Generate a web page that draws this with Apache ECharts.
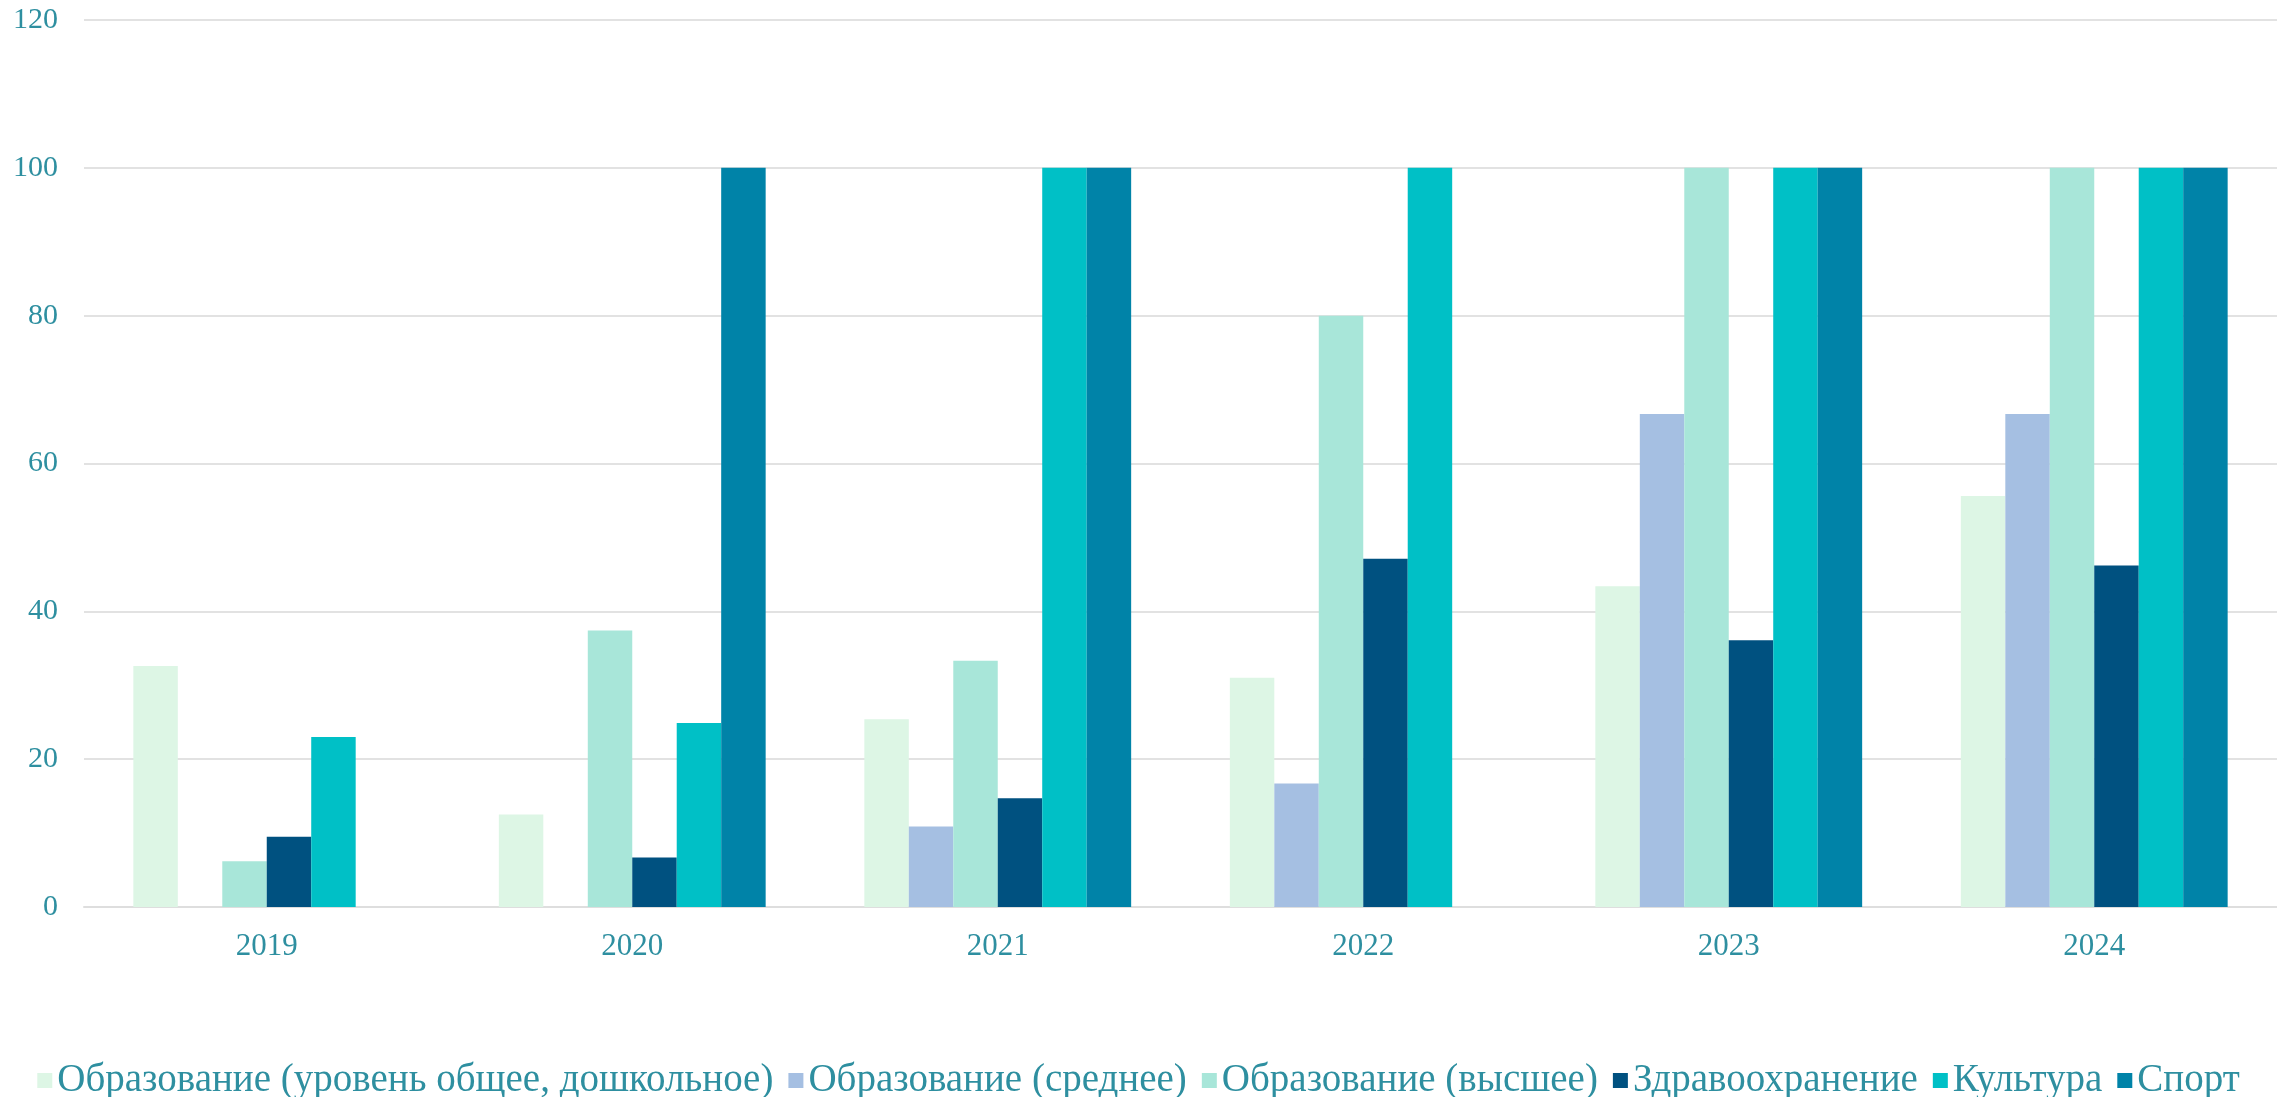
<!DOCTYPE html>
<html>
<head>
<meta charset="utf-8">
<script src="https://cdn.jsdelivr.net/npm/echarts@6/dist/echarts.min.js"></script>
<style>
  html, body { margin: 0; padding: 0; background: #ffffff; }
  #chart { width: 2277px; height: 1097px; }
</style>
</head>
<body>
<div id="chart"></div>
<script>
var years = ['2019', '2020', '2021', '2022', '2023', '2024'];
var seriesNames = [
  'Образование (уровень общее, дошкольное)',
  'Образование (среднее)',
  'Образование (высшее)',
  'Здравоохранение',
  'Культура',
  'Спорт'
];
var eduGeneral = [32.6, 12.5, 25.4, 31.0, 43.4, 55.6];
var eduSecondary = [0, 0, 10.9, 16.7, 66.7, 66.7];
var eduHigher = [6.2, 37.4, 33.3, 80.0, 100, 100];
var health = [9.5, 6.7, 14.7, 47.1, 36.1, 46.2];
var culture = [23.0, 24.9, 100, 100, 100, 100];
var sport = [0, 100, 100, 0, 100, 100];
var colors = ['#ddf6e5', '#a5bfe2', '#a8e6d9', '#005180', '#00c0c6', '#0083a8'];

(function() {
  var textColor = '#2e8fa0';
  var font = '"Liberation Serif", "Times New Roman", serif';
  var values = [eduGeneral, eduSecondary, eduHigher, health, culture, sport];

  var chart = echarts.init(document.getElementById('chart'), null, { renderer: 'canvas' });
  chart.setOption({
    animation: false,
    backgroundColor: '#ffffff',
    color: colors,
    legend: {
      data: seriesNames,
      left: 'center',
      top: 1056,
      itemWidth: 15,
      itemHeight: 15,
      itemGap: 15,
      icon: 'rect',
      textStyle: { color: textColor, fontSize: 39, fontFamily: font }
    },
    grid: { left: 84, right: 0, top: 20, bottom: 190 },
    xAxis: {
      type: 'category',
      data: years,
      axisLine: { show: true, lineStyle: { color: '#dedede', width: 2 } },
      axisTick: { show: false },
      axisLabel: { color: textColor, fontSize: 31, fontFamily: font, margin: 24 }
    },
    yAxis: {
      type: 'value',
      min: 0,
      max: 120,
      interval: 20,
      axisLine: { show: false },
      axisTick: { show: false },
      axisLabel: { color: textColor, fontSize: 30, fontFamily: font, margin: 26 },
      splitLine: { lineStyle: { color: '#e2e2e2', width: 2 } }
    },
    series: seriesNames.map(function(name, i) {
      return {
        name: name,
        type: 'bar',
        data: values[i],
        barGap: '0%',
        barCategoryGap: '27%',
        itemStyle: { color: colors[i] }
      };
    })
  });
  window.addEventListener('resize', function() { chart.resize(); });
})();
</script>
</body>
</html>
